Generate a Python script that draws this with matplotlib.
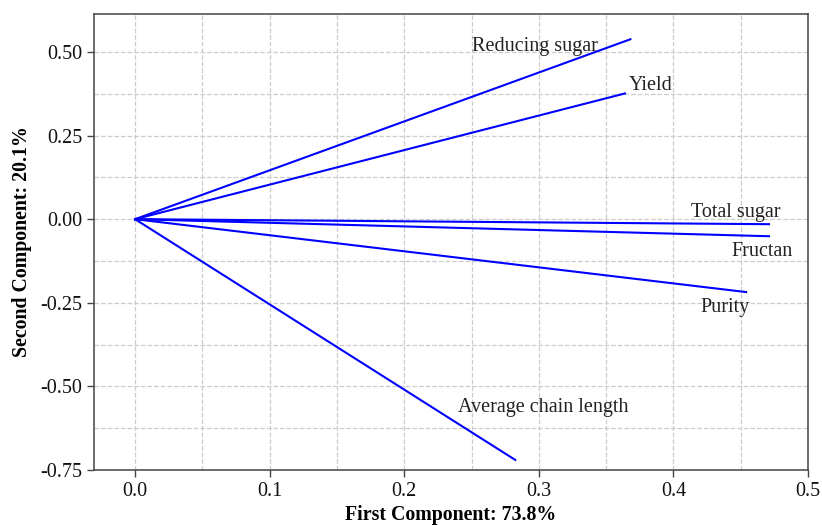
import numpy as np
import matplotlib
matplotlib.use('Agg')
import matplotlib.pyplot as plt
from matplotlib.ticker import MultipleLocator

# loading vectors (PC1, PC2)
variables = ['Reducing sugar', 'Yield', 'Total sugar', 'Fructan', 'Purity', 'Average chain length']
pc1 = [0.368, 0.364, 0.471, 0.471, 0.454, 0.2825]
pc2 = [0.538, 0.376, -0.015, -0.051, -0.218, -0.72]

# label anchors (left edge, vertical centre)
label_x = [0.250, 0.367, 0.413, 0.443, 0.420, 0.240]
label_y = [0.515, 0.401, 0.021, -0.096, -0.263, -0.562]

plt.rcParams['font.family'] = ['Liberation Serif', 'DejaVu Serif']

fig = plt.figure(figsize=(8.22, 5.25), dpi=100)
ax = fig.add_axes([0.1144, 0.1048, 0.8686, 0.8685])

for x, y in zip(pc1, pc2):
    ax.plot([0, x], [0, y], color='#0000ff', linewidth=1.5)

for name, lx, ly in zip(variables, label_x, label_y):
    ax.text(lx, ly, name, ha='left', va='center', fontsize=14.5, color='#222222')

ax.set_xlim(-0.0305, 0.5)
ax.set_ylim(-0.75, 0.6135)
ax.xaxis.set_major_locator(MultipleLocator(0.1))
ax.xaxis.set_minor_locator(MultipleLocator(0.05))
ax.yaxis.set_major_locator(MultipleLocator(0.25))
ax.yaxis.set_minor_locator(MultipleLocator(0.125))
ax.xaxis.set_major_formatter(lambda v, p: f'{v:.1f}')
ax.yaxis.set_major_formatter(lambda v, p: f'{v:.2f}')

ax.grid(which='both', linestyle='--', color='#cccccc', linewidth=0.9)
ax.set_axisbelow(True)
ax.tick_params(which='minor', length=0)
ax.tick_params(which='major', direction='out', length=5, width=1, color='#444444',
               labelsize=14.5, labelcolor='#111111')
for s in ax.spines.values():
    s.set_color('#444444')
    s.set_linewidth(1.1)

ax.set_xlabel('First Component: 73.8%', fontsize=14.3, fontweight='bold', labelpad=3)
ax.set_ylabel('Second Component: 20.1%', fontsize=14.3, fontweight='bold', labelpad=6)

plt.savefig('out.png', dpi=100)
